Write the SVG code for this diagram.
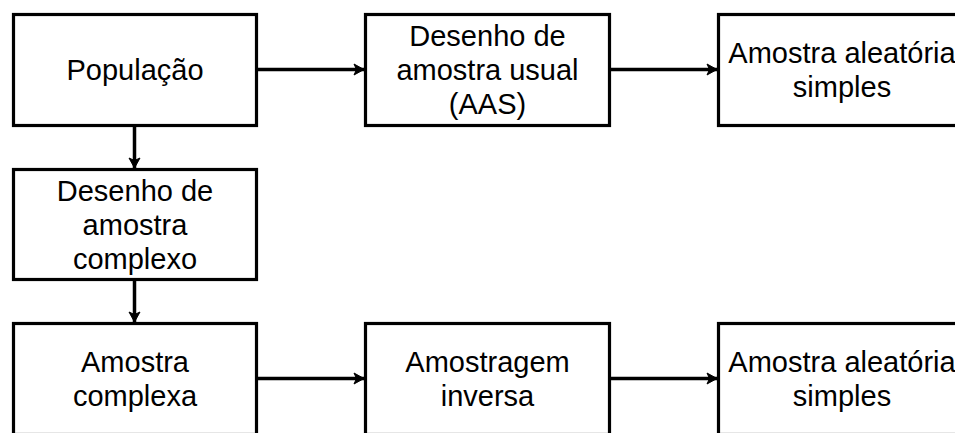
<svg xmlns="http://www.w3.org/2000/svg" width="955" height="433" viewBox="0 0 955 433">
<style>
.box{fill:#fff;stroke:#000;stroke-width:3.2}
.lbl{font-family:"Liberation Sans",Arial,sans-serif;font-size:29px;fill:#000;text-anchor:middle}
.conn{stroke:#000;stroke-width:3.5;fill:none;marker-end:url(#ah)}
</style>
<defs>
<marker id="ah" markerUnits="userSpaceOnUse" markerWidth="14" markerHeight="14" viewBox="0 0 14 14" refX="12" refY="7" orient="auto">
<path d="M2,1.5 L12,7 L2,12.5 L4.5,7 Z" fill="#000" stroke="#000" stroke-width="1" stroke-linejoin="round"/>
</marker>
</defs>
<rect width="955" height="433" fill="#fff"/>
<g id="connectors">
<line class="conn" x1="257" y1="69.5" x2="364" y2="69.5"/>
<line class="conn" x1="611" y1="69.5" x2="717" y2="69.5"/>
<line class="conn" x1="134.5" y1="126" x2="134.5" y2="168"/>
<line class="conn" x1="134.5" y1="281" x2="134.5" y2="322"/>
<line class="conn" x1="257" y1="378.5" x2="364" y2="378.5"/>
<line class="conn" x1="611" y1="378.5" x2="717" y2="378.5"/>
</g>
<g id="populacao">
<rect class="box" x="13.5" y="14.5" width="243" height="111"/>
<text class="lbl" x="135" y="80">População</text>
</g>
<g id="desenho-usual">
<rect class="box" x="365.5" y="14.5" width="244" height="111"/>
<text class="lbl" x="487.5" y="46">Desenho de</text>
<text class="lbl" x="487.5" y="80">amostra usual</text>
<text class="lbl" x="487.5" y="114">(AAS)</text>
</g>
<g id="aas-top">
<rect class="box" x="718.5" y="14.5" width="244" height="111"/>
<text class="lbl" x="842" y="63">Amostra aleatória</text>
<text class="lbl" x="842" y="97">simples</text>
</g>
<g id="desenho-complexo">
<rect class="box" x="13.5" y="169.5" width="243" height="110"/>
<text class="lbl" x="135" y="200.5">Desenho de</text>
<text class="lbl" x="135" y="234.5">amostra</text>
<text class="lbl" x="135" y="268.5">complexo</text>
</g>
<g id="amostra-complexa">
<rect class="box" x="13.5" y="323.5" width="243" height="111"/>
<text class="lbl" x="135" y="372">Amostra</text>
<text class="lbl" x="135" y="406">complexa</text>
</g>
<g id="amostragem-inversa">
<rect class="box" x="365.5" y="323.5" width="244" height="111"/>
<text class="lbl" x="487.5" y="372">Amostragem</text>
<text class="lbl" x="487.5" y="406">inversa</text>
</g>
<g id="aas-bottom">
<rect class="box" x="718.5" y="323.5" width="244" height="111"/>
<text class="lbl" x="842" y="372">Amostra aleatória</text>
<text class="lbl" x="842" y="406">simples</text>
</g>
</svg>
